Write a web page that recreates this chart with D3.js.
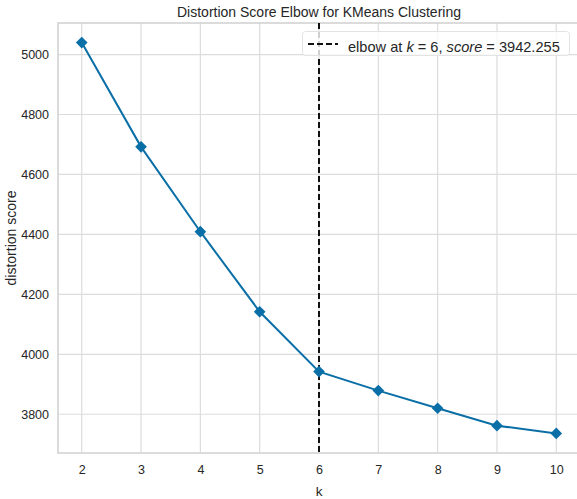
<!DOCTYPE html>
<html>
<head>
<meta charset="utf-8">
<script src="https://cdn.jsdelivr.net/npm/d3@7"></script>
<style>
  html, body { margin: 0; padding: 0; background: #fff; }
  svg { display: block; }
  text { font-family: "Liberation Sans", Arial, sans-serif; fill: #262626; }
</style>
</head>
<body>
<svg id="chart" width="577" height="499"></svg>
<script>
const ks = [2, 3, 4, 5, 6, 7, 8, 9, 10];
const scores = [5040, 4692, 4409, 4142, 3942.255, 3879, 3820, 3762, 3736];
const yTicks = [3800, 4000, 4200, 4400, 4600, 4800, 5000];
const elbowK = 6;
const elbowScore = 3942.255;
const title = "Distortion Score Elbow for KMeans Clustering";
const xLabel = "k";
const yLabel = "distortion score";

const W = 577, H = 499;
const m = { left: 58, right: 580, top: 23, bottom: 453 };
const svg = d3.select("#chart");

const xPad = (d3.max(ks) - d3.min(ks)) * 0.05;
const x = d3.scaleLinear()
  .domain([d3.min(ks) - xPad, d3.max(ks) + xPad])
  .range([m.left, m.right]);
const yr = d3.max(scores) - d3.min(scores);
const y = d3.scaleLinear()
  .domain([d3.min(scores) - 0.05 * yr, d3.max(scores) + 0.05 * yr])
  .range([m.bottom, m.top]);

// grid
const grid = svg.append("g");
grid.selectAll("line.vx").data(ks).join("line")
  .attr("x1", d => x(d)).attr("x2", d => x(d))
  .attr("y1", m.top).attr("y2", m.bottom)
  .attr("stroke", "#dcdcdc").attr("stroke-width", 1.2);
grid.selectAll("line.hy").data(yTicks).join("line")
  .attr("x1", m.left).attr("x2", m.right)
  .attr("y1", d => y(d)).attr("y2", d => y(d))
  .attr("stroke", "#dcdcdc").attr("stroke-width", 1.2);

// spines
svg.append("rect")
  .attr("x", m.left).attr("y", m.top)
  .attr("width", m.right - m.left).attr("height", m.bottom - m.top)
  .attr("fill", "none").attr("stroke", "#d0d0d0").attr("stroke-width", 1.5);

// axes
const xAxis = svg.append("g")
  .attr("transform", `translate(0,${m.bottom})`)
  .call(d3.axisBottom(x).tickValues(ks).tickSize(0).tickPadding(12).tickFormat(d3.format("d")));
xAxis.select(".domain").remove();
xAxis.selectAll("text").attr("font-size", 12.5).attr("fill", "#333");

const yAxis = svg.append("g")
  .attr("transform", `translate(${m.left},0)`)
  .call(d3.axisLeft(y).tickValues(yTicks).tickSize(0).tickPadding(9).tickFormat(d3.format("d")));
yAxis.select(".domain").remove();
yAxis.selectAll("text").attr("font-size", 12.5).attr("fill", "#333");

// elbow line
svg.append("line")
  .attr("x1", x(elbowK)).attr("x2", x(elbowK))
  .attr("y1", m.top).attr("y2", m.bottom)
  .attr("stroke", "#111").attr("stroke-width", 2)
  .attr("stroke-dasharray", "6,3");

// data line
const color = "#0a6fa6";
svg.append("path")
  .datum(ks.map((k, i) => [k, scores[i]]))
  .attr("d", d3.line().x(d => x(d[0])).y(d => y(d[1])))
  .attr("fill", "none").attr("stroke", color).attr("stroke-width", 2);

svg.selectAll("path.mk").data(ks.map((k, i) => [k, scores[i]])).join("path")
  .attr("class", "mk")
  .attr("d", d3.symbol().type(d3.symbolSquare).size(68))
  .attr("transform", d => `translate(${x(d[0])},${y(d[1])}) rotate(45)`)
  .attr("fill", color);

// title and labels
svg.append("text").attr("x", (m.left + m.right) / 2).attr("y", 17)
  .attr("text-anchor", "middle").attr("font-size", 14).text(title);
svg.append("text").attr("x", (m.left + m.right) / 2).attr("y", 496)
  .attr("text-anchor", "middle").attr("font-size", 13.5).text(xLabel);
svg.append("text")
  .attr("transform", `translate(16,${(m.top + m.bottom) / 2}) rotate(-90)`)
  .attr("text-anchor", "middle").attr("font-size", 14).text(yLabel);

// legend
const lg = svg.append("g");
lg.append("rect").attr("x", 302.5).attr("y", 31.5).attr("width", 267).attr("height", 24)
  .attr("rx", 3).attr("fill", "#fff").attr("fill-opacity", 0.8)
  .attr("stroke", "#e3e3e3").attr("stroke-width", 1);
lg.append("line").attr("x1", 308).attr("x2", 338).attr("y1", 44).attr("y2", 44)
  .attr("stroke", "#111").attr("stroke-width", 2).attr("stroke-dasharray", "6,3");
const lt = lg.append("text").attr("x", 348).attr("y", 52).attr("font-size", 14.6);
lt.append("tspan").text("elbow at ");
lt.append("tspan").attr("font-style", "italic").text("k");
lt.append("tspan").text(" = " + elbowK + ", ");
lt.append("tspan").attr("font-style", "italic").text("score");
lt.append("tspan").text(" = " + elbowScore.toFixed(3));
</script>
</body>
</html>
